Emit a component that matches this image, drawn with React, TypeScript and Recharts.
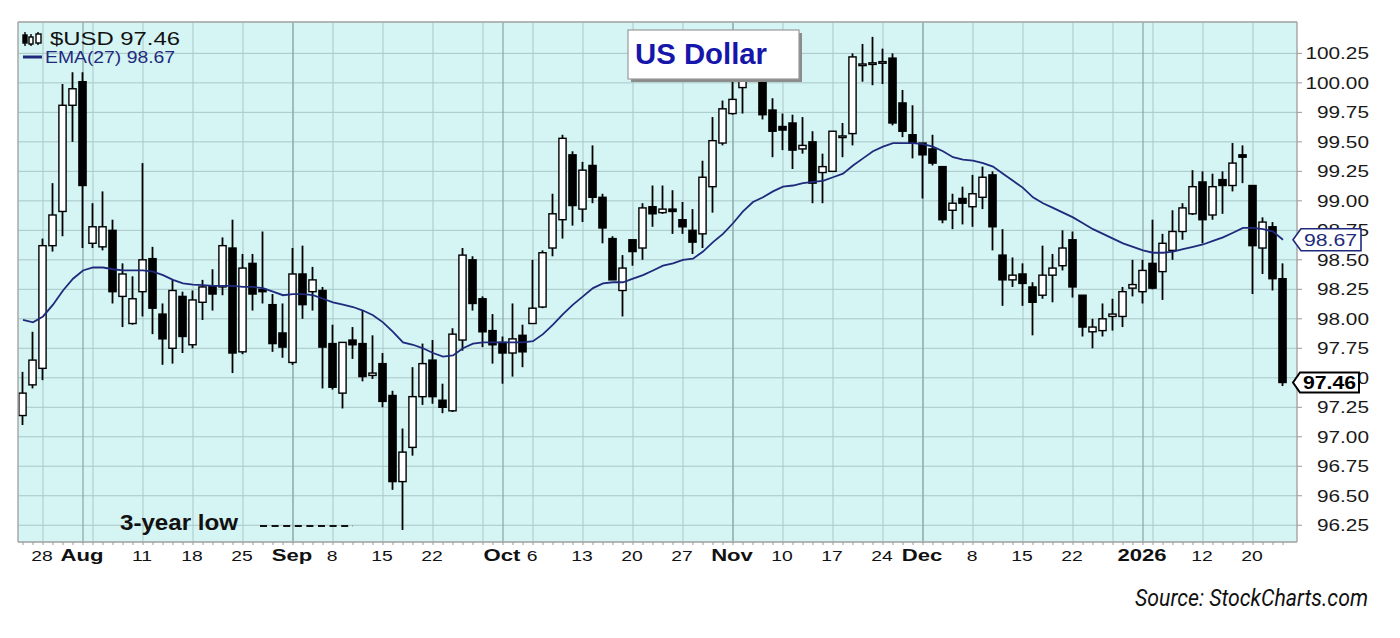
import React from 'react';
import {
  ComposedChart,
  Bar,
  Line,
  XAxis,
  YAxis,
  CartesianGrid,
  ReferenceLine,
  ReferenceDot,
} from 'recharts';

// ---- categories (trading days) ----
const dates: string[] = [
  '2025-07-24', '2025-07-25',
  '2025-07-28', '2025-07-29', '2025-07-30', '2025-07-31', '2025-08-01',
  '2025-08-04', '2025-08-05', '2025-08-06', '2025-08-07', '2025-08-08',
  '2025-08-11', '2025-08-12', '2025-08-13', '2025-08-14', '2025-08-15',
  '2025-08-18', '2025-08-19', '2025-08-20', '2025-08-21', '2025-08-22',
  '2025-08-25', '2025-08-26', '2025-08-27', '2025-08-28', '2025-08-29',
  '2025-09-02', '2025-09-03', '2025-09-04', '2025-09-05',
  '2025-09-08', '2025-09-09', '2025-09-10', '2025-09-11', '2025-09-12',
  '2025-09-15', '2025-09-16', '2025-09-17', '2025-09-18', '2025-09-19',
  '2025-09-22', '2025-09-23', '2025-09-24', '2025-09-25', '2025-09-26',
  '2025-09-29', '2025-09-30', '2025-10-01', '2025-10-02', '2025-10-03',
  '2025-10-06', '2025-10-07', '2025-10-08', '2025-10-09', '2025-10-10',
  '2025-10-13', '2025-10-14', '2025-10-15', '2025-10-16', '2025-10-17',
  '2025-10-20', '2025-10-21', '2025-10-22', '2025-10-23', '2025-10-24',
  '2025-10-27', '2025-10-28', '2025-10-29', '2025-10-30', '2025-10-31',
  '2025-11-03', '2025-11-04', '2025-11-05', '2025-11-06', '2025-11-07',
  '2025-11-10', '2025-11-11', '2025-11-12', '2025-11-13', '2025-11-14',
  '2025-11-17', '2025-11-18', '2025-11-19', '2025-11-20', '2025-11-21',
  '2025-11-24', '2025-11-25', '2025-11-26', '2025-11-28',
  '2025-12-01', '2025-12-02', '2025-12-03', '2025-12-04', '2025-12-05',
  '2025-12-08', '2025-12-09', '2025-12-10', '2025-12-11', '2025-12-12',
  '2025-12-15', '2025-12-16', '2025-12-17', '2025-12-18', '2025-12-19',
  '2025-12-22', '2025-12-23', '2025-12-24', '2025-12-26',
  '2025-12-29', '2025-12-30', '2025-12-31', '2026-01-02',
  '2026-01-05', '2026-01-06', '2026-01-07', '2026-01-08', '2026-01-09',
  '2026-01-12', '2026-01-13', '2026-01-14', '2026-01-15', '2026-01-16',
  '2026-01-20', '2026-01-21', '2026-01-22', '2026-01-23',
];

// ---- series values ----
const open: number[] = [
  97.18, 97.44, 97.58, 98.62, 98.91, 99.81, 100.01, 98.64, 98.61, 98.75,
  98.19, 97.96, 98.23, 98.51, 98.04, 97.75, 98.19, 97.78, 98.14, 98.28,
  98.27, 98.6, 97.72, 98.47, 98.25, 98.12, 97.88, 97.63, 98.38, 98.23,
  98.24, 97.79, 97.37, 97.82, 97.79, 97.52, 97.62, 97.35, 96.62, 96.91,
  97.34, 97.65, 97.31, 97.22, 97.82, 98.5, 98.17, 97.9, 97.8, 97.71,
  97.86, 97.96, 98.1, 98.6, 98.84, 99.39, 98.93, 99.3, 99.03, 98.68,
  98.24, 98.67, 98.6, 98.95, 98.9, 98.93, 98.84, 98.75, 98.72, 99.12,
  99.49, 99.74, 99.96, 100.1, 100.05, 99.77, 99.63, 99.66, 99.44, 99.5,
  99.24, 99.25, 99.54, 99.57, 100.15, 100.16, 100.17, 100.21, 99.83, 99.56,
  99.49, 99.44, 99.29, 98.92, 99.02, 98.95, 99.03, 99.22, 98.54, 98.33,
  98.38, 98.27, 98.2, 98.37, 98.45, 98.67, 98.2, 97.89, 97.9, 98.02,
  98.02, 98.26, 98.23, 98.47, 98.4, 98.58, 98.74, 98.89, 99.16, 98.88,
  99.18, 99.13, 99.39, 99.13, 98.6, 98.78, 98.34,
];
const high: number[] = [
  97.55, 97.89, 98.68, 99.15, 99.99, 100.09, 100.09, 98.98, 99.08, 98.84,
  98.47, 98.36, 99.32, 98.61, 98.13, 98.33, 98.23, 98.24, 98.33, 98.42,
  98.69, 98.84, 98.55, 98.55, 98.74, 98.21, 98.13, 98.6, 98.62, 98.44,
  98.27, 97.95, 97.8, 97.93, 98.07, 97.86, 97.71, 97.39, 97.07, 97.59,
  97.79, 97.82, 97.45, 97.92, 98.6, 98.53, 98.19, 98.04, 97.85, 98.13,
  97.95, 98.5, 98.58, 99.06, 99.56, 99.42, 99.33, 99.47, 99.06, 98.7,
  98.54, 98.67, 98.98, 99.13, 99.13, 99.09, 98.99, 98.93, 99.34, 99.71,
  99.85, 100.01, 100.2, 100.36, 100.08, 99.87, 99.74, 99.73, 99.71, 99.59,
  99.4, 99.59, 99.66, 100.25, 100.33, 100.39, 100.29, 100.25, 99.94, 99.81,
  99.49, 99.56, 99.29, 99.06, 99.12, 99.22, 99.29, 99.25, 98.76, 98.52,
  98.47, 98.31, 98.62, 98.55, 98.75, 98.74, 98.2, 98.0, 98.13, 98.17,
  98.27, 98.5, 98.5, 98.84, 98.72, 98.92, 98.98, 99.26, 99.25, 99.23,
  99.25, 99.49, 99.47, 99.13, 98.86, 98.82, 98.47,
];
const low: number[] = [
  97.1, 97.41, 97.48, 98.57, 98.7, 99.5, 98.6, 98.6, 98.58, 98.13,
  97.93, 97.95, 98.02, 97.87, 97.61, 97.62, 97.71, 97.75, 97.99, 98.07,
  98.2, 97.54, 97.7, 98.07, 98.13, 97.72, 97.67, 97.61, 98.0, 98.07,
  97.41, 97.4, 97.24, 97.66, 97.47, 97.49, 97.25, 96.55, 96.21, 96.84,
  97.27, 97.28, 97.2, 97.21, 97.73, 98.07, 97.76, 97.62, 97.45, 97.51,
  97.59, 97.96, 98.09, 98.53, 98.68, 98.79, 98.82, 98.98, 98.64, 98.33,
  98.02, 98.45, 98.5, 98.78, 98.89, 98.72, 98.72, 98.55, 98.6, 98.9,
  99.47, 99.73, 99.74, 100.05, 99.69, 99.37, 99.43, 99.27, 99.4, 98.98,
  98.98, 99.25, 99.37, 99.47, 100.01, 99.98, 99.99, 99.64, 99.54, 99.36,
  99.02, 99.3, 98.81, 98.76, 98.8, 98.78, 98.93, 98.58, 98.11, 98.27,
  98.11, 97.86, 98.17, 98.14, 98.41, 98.18, 97.85, 97.75, 97.85, 97.9,
  97.93, 98.19, 98.13, 98.25, 98.16, 98.5, 98.67, 98.88, 98.64, 98.84,
  98.89, 99.08, 99.15, 98.21, 98.38, 98.24, 97.43,
];
const close: number[] = [
  97.37, 97.65, 98.62, 98.88, 99.81, 99.95, 99.13, 98.78, 98.78, 98.23,
  98.38, 98.17, 98.5, 98.09, 97.83, 98.24, 97.85, 98.16, 98.27, 98.21,
  98.62, 97.71, 98.43, 98.21, 98.23, 97.79, 97.76, 98.38, 98.12, 98.33,
  97.76, 97.42, 97.8, 97.78, 97.51, 97.54, 97.3, 96.62, 96.87, 97.34,
  97.62, 97.34, 97.25, 97.87, 98.54, 98.13, 97.89, 97.78, 97.71, 97.83,
  97.72, 98.09, 98.56, 98.89, 99.53, 98.96, 99.26, 99.03, 98.77, 98.33,
  98.43, 98.57, 98.94, 98.89, 98.93, 98.91, 98.78, 98.65, 99.2, 99.51,
  99.78, 99.86, 100.02, 100.22, 99.73, 99.59, 99.6, 99.43, 99.47, 99.15,
  99.29, 99.59, 99.55, 100.22, 100.16, 100.17, 100.18, 99.66, 99.59, 99.49,
  99.39, 99.32, 98.84, 98.98, 98.98, 99.06, 99.2, 98.78, 98.33, 98.37,
  98.3, 98.14, 98.37, 98.43, 98.6, 98.27, 97.93, 97.93, 98.0, 98.04,
  98.23, 98.29, 98.41, 98.26, 98.64, 98.74, 98.94, 99.12, 98.84, 99.12,
  99.13, 99.32, 99.37, 98.62, 98.82, 98.34, 97.46,
];
const ema27: number[] = [
  97.99, 97.97, 98.02, 98.12, 98.24, 98.34, 98.41, 98.435, 98.435, 98.42,
  98.41, 98.41, 98.41, 98.4, 98.37, 98.33, 98.3, 98.29, 98.285, 98.28,
  98.28, 98.28, 98.27, 98.27, 98.26, 98.23, 98.2, 98.21, 98.21, 98.2,
  98.17, 98.14, 98.12, 98.1, 98.07, 98.03, 97.97, 97.89, 97.8, 97.78,
  97.75, 97.71, 97.68, 97.69, 97.75, 97.79, 97.8, 97.8, 97.8, 97.8,
  97.8, 97.81, 97.87, 97.95, 98.04, 98.12, 98.19, 98.26, 98.3, 98.31,
  98.31, 98.34, 98.37, 98.41, 98.45, 98.47, 98.5, 98.51, 98.57, 98.65,
  98.72, 98.81, 98.91, 98.99, 99.03, 99.08, 99.12, 99.13, 99.15, 99.16,
  99.17, 99.2, 99.23, 99.3, 99.36, 99.42, 99.46, 99.49, 99.49, 99.49,
  99.48, 99.46, 99.42, 99.37, 99.35, 99.34, 99.32, 99.29, 99.23, 99.17,
  99.11, 99.03, 98.98, 98.94, 98.9, 98.86, 98.81, 98.76, 98.72, 98.68,
  98.64, 98.61, 98.58, 98.56, 98.56, 98.57, 98.59, 98.61, 98.63, 98.66,
  98.69, 98.73, 98.77, 98.77, 98.76, 98.74, 98.67,
];

// ---- axis ticks / labels ----
const yTicks: number[] = [
  96.25, 96.5, 96.75, 97.0, 97.25, 97.5, 97.75, 98.0, 98.25, 98.5, 98.75,
  99.0, 99.25, 99.5, 99.75, 100.0, 100.25,
];
const xLabelDates: string[] = [
  '2025-07-28', '2025-08-01', '2025-08-11', '2025-08-18', '2025-08-25',
  '2025-09-02', '2025-09-08', '2025-09-15', '2025-09-22', '2025-10-01',
  '2025-10-06', '2025-10-13', '2025-10-20', '2025-10-27', '2025-11-03',
  '2025-11-10', '2025-11-17', '2025-11-24', '2025-12-01', '2025-12-08',
  '2025-12-15', '2025-12-22', '2026-01-02', '2026-01-12', '2026-01-20',
];
const xLabelTexts: string[] = [
  '28', 'Aug', '11', '18', '25', 'Sep', '8', '15', '22', 'Oct', '6', '13',
  '20', '27', 'Nov', '10', '17', '24', 'Dec', '8', '15', '22', '2026', '12', '20',
];
const monthLabels: string[] = ['Aug', 'Sep', 'Oct', 'Nov', 'Dec', '2026'];
const weekStartDates: string[] = [
  '2025-07-28', '2025-08-04', '2025-08-11', '2025-08-18', '2025-08-25',
  '2025-09-02', '2025-09-08', '2025-09-15', '2025-09-22', '2025-09-29',
  '2025-10-06', '2025-10-13', '2025-10-20', '2025-10-27', '2025-11-03',
  '2025-11-10', '2025-11-17', '2025-11-24', '2025-12-01', '2025-12-08',
  '2025-12-15', '2025-12-22', '2025-12-29', '2026-01-05', '2026-01-12',
  '2026-01-20',
];
const monthStartDates: string[] = [
  '2025-08-01', '2025-09-02', '2025-10-01', '2025-11-03', '2025-12-01', '2026-01-02',
];

// ---- derived tables for the library ----
const data = dates.map((d, i) => ({
  i,
  date: d,
  o: open[i],
  h: high[i],
  l: low[i],
  c: close[i],
  range: [low[i], high[i]],
  ema: ema27[i],
}));
const idxOf = (d: string) => dates.indexOf(d);
const labelByIdx: Record<number, string> = {};
xLabelDates.forEach((d, k) => {
  labelByIdx[idxOf(d)] = xLabelTexts[k];
});
const allIdx = dates.map((_, i) => i);
const weekIdx = weekStartDates.map(idxOf);
const monthIdx = monthStartDates.map(idxOf);
const lastIdx = dates.length - 1;

const X_DOMAIN: [number, number] = [-0.5, 127.4];
const Y_DOMAIN: [number, number] = [96.108, 100.516];

const NAVY = '#1f2a7c';
const ARIAL = '"Liberation Sans", Arial, sans-serif';

const Candle = (props: any) => {
  const { x, y, width, height, payload } = props;
  if (x == null || y == null || !payload) return null;
  const top = Math.min(y, y + height);
  const hpx = Math.abs(height);
  const { o, c, h, l } = payload;
  const span = h - l;
  const py = (v: number) => (span > 0 ? top + ((h - v) / span) * hpx : top);
  const cx = x + width / 2;
  const up = c >= o;
  const bTop = py(Math.max(o, c));
  const bBot = py(Math.min(o, c));
  const bh = Math.max(bBot - bTop, 1.6);
  return (
    <g>
      <line x1={cx} x2={cx} y1={top} y2={top + hpx} stroke="#000" strokeWidth={1.8} />
      <rect
        x={cx - 3.6}
        y={bTop}
        width={7.2}
        height={bh}
        fill={up ? '#ffffff' : '#000000'}
        stroke="#000"
        strokeWidth={1.4}
      />
    </g>
  );
};

const YTick = (props: any) => {
  const { x, y, payload } = props;
  return (
    <text
      transform={`translate(${x + 65},${y + 6}) scale(1.3,1)`}
      textAnchor="end"
      fontFamily={ARIAL}
      fontSize={16}
      fill="#1a1a1a"
    >
      {Number(payload.value).toFixed(2)}
    </text>
  );
};

const XTick = (props: any) => {
  const { x, y, payload } = props;
  const lab = labelByIdx[payload.value];
  if (!lab) return <g />;
  const bold = monthLabels.includes(lab);
  return (
    <text
      transform={`translate(${x - 1},${y + 14}) scale(${bold ? 1.3 : 1.38},1)`}
      textAnchor="middle"
      fontFamily={ARIAL}
      fontSize={bold ? 17 : 14}
      fontWeight={bold ? 'bold' : 'normal'}
      fill="#111"
    >
      {lab}
    </text>
  );
};

const EmaTag = (props: any) => {
  const { cx, cy } = props;
  if (cx == null || cy == null) return <g />;
  const tip = cx + 10;
  const path = `M${tip},${cy} L${tip + 8},${cy - 11} L${tip + 68},${cy - 11} L${tip + 68},${cy + 11} L${tip + 8},${cy + 11} Z`;
  return (
    <g>
      <path d={path} fill="#fff" stroke={NAVY} strokeWidth={1.6} />
      <text
        x={tip + 11}
        y={cy + 6}
        fontFamily={ARIAL}
        fontSize={16}
        fill={NAVY}
        textLength={53}
        lengthAdjust="spacingAndGlyphs"
      >
        {ema27[lastIdx].toFixed(2)}
      </text>
    </g>
  );
};

const CloseTag = (props: any) => {
  const { cx, cy } = props;
  if (cx == null || cy == null) return <g />;
  const tip = cx + 10;
  const path = `M${tip},${cy} L${tip + 7},${cy - 10} L${tip + 66},${cy - 10} L${tip + 66},${cy + 10} L${tip + 7},${cy + 10} Z`;
  return (
    <g>
      <path d={path} fill="#fff" stroke="#000" strokeWidth={2} />
      <text
        x={tip + 10}
        y={cy + 6.5}
        fontFamily={ARIAL}
        fontSize={18}
        fontWeight="bold"
        fill="#000"
        textLength={53}
        lengthAdjust="spacingAndGlyphs"
      >
        {close[lastIdx].toFixed(2)}
      </text>
    </g>
  );
};

export default function App() {
  const tagProps: any = { zIndex: 3000 };
  return (
    <div
      style={{
        position: 'absolute',
        left: 0,
        top: 0,
        width: 1400,
        height: 638,
        background: '#ffffff',
        overflow: 'hidden',
      }}
    >
      <ComposedChart
        width={1400}
        height={638}
        data={data}
        margin={{ top: 22, right: 13, bottom: 64, left: 18 }}
      >
        <CartesianGrid
          fill="#d5f4f4"
          stroke="#a9c7c7"
          strokeWidth={1}
          vertical={true}
          verticalValues={weekIdx}
          horizontal={true}
        />
        <CartesianGrid
          stroke="#8aa4a4"
          strokeWidth={1.2}
          horizontal={false}
          vertical={true}
          verticalValues={monthIdx}
        />
        <XAxis
          dataKey="i"
          type="number"
          domain={X_DOMAIN}
          allowDataOverflow
          ticks={allIdx}
          interval={0}
          tickSize={3}
          tickLine={{ stroke: '#9a9a9a' }}
          axisLine={{ stroke: '#a8a8a8', strokeWidth: 1.5 }}
          tick={<XTick />}
          height={32}
        />
        <YAxis
          orientation="right"
          domain={Y_DOMAIN}
          allowDataOverflow
          ticks={yTicks}
          interval={0}
          tickSize={5}
          tickLine={{ stroke: '#9a9a9a' }}
          axisLine={{ stroke: '#a8a8a8', strokeWidth: 1.5 }}
          tick={<YTick />}
          width={90}
        />
        <ReferenceLine y={Y_DOMAIN[1]} stroke="#a8a8a8" strokeWidth={1.5} />
        <ReferenceLine x={X_DOMAIN[0]} stroke="#a8a8a8" strokeWidth={1.5} />
        <Bar dataKey="range" barSize={7} shape={<Candle />} isAnimationActive={false} />
        <Line
          type="linear"
          dataKey="ema"
          stroke={NAVY}
          strokeWidth={1.8}
          dot={false}
          activeDot={false}
          isAnimationActive={false}
        />
        <ReferenceDot {...tagProps} x={lastIdx} y={ema27[lastIdx]} r={1} shape={<EmaTag />} />
        <ReferenceDot {...tagProps} x={lastIdx} y={close[lastIdx]} r={1} shape={<CloseTag />} />
      </ComposedChart>

      <svg
        width={1400}
        height={638}
        style={{ position: 'absolute', left: 0, top: 0, pointerEvents: 'none' }}
      >
        {/* legend icon */}
        <g stroke="#000" strokeWidth={1.4}>
          <line x1={25} x2={25} y1={32} y2={46} />
          <rect x={23} y={35} width={4} height={8} fill="#000" />
          <line x1={31} x2={31} y1={34} y2={46} />
          <rect x={29} y={37} width={4} height={7} fill="#fff" />
          <line x1={38} x2={38} y1={32} y2={45} />
          <rect x={36} y={34} width={5} height={9} fill="#fff" />
        </g>
        <text
          x={50}
          y={45}
          fontFamily={ARIAL}
          fontSize={18}
          fill="#111"
          textLength={130}
          lengthAdjust="spacingAndGlyphs"
        >
          $USD 97.46
        </text>
        <line x1={23} x2={42} y1={57} y2={57} stroke={NAVY} strokeWidth={3} />
        <text
          x={45}
          y={63}
          fontFamily={ARIAL}
          fontSize={16}
          fill={NAVY}
          textLength={130}
          lengthAdjust="spacingAndGlyphs"
        >
          EMA(27) 98.67
        </text>

        {/* title box */}
        <rect x={631} y={33} width={171} height={49} fill="#8c8c8c" />
        <rect x={628} y={30} width={171} height={49} fill="#ffffff" stroke="#9a9a9a" strokeWidth={1.2} />
        <text
          x={635}
          y={64}
          fontFamily={ARIAL}
          fontSize={29}
          fontWeight="bold"
          fill="#1616aa"
          textLength={132}
          lengthAdjust="spacingAndGlyphs"
        >
          US Dollar
        </text>

        {/* 3-year low annotation */}
        <text
          x={120}
          y={530}
          fontFamily={ARIAL}
          fontSize={22}
          fontWeight="bold"
          fill="#111"
          textLength={118}
          lengthAdjust="spacingAndGlyphs"
        >
          3-year low
        </text>
        <line
          x1={260}
          x2={353}
          y1={526}
          y2={526}
          stroke="#111"
          strokeWidth={2}
          strokeDasharray="7 4.6"
        />

        {/* source */}
        <text
          x={1135}
          y={606}
          fontFamily='Roboto, "Liberation Sans", sans-serif'
          fontSize={24}
          fontStyle="italic"
          fill="#111"
          textLength={233}
          lengthAdjust="spacingAndGlyphs"
        >
          Source: StockCharts.com
        </text>
      </svg>
    </div>
  );
}
